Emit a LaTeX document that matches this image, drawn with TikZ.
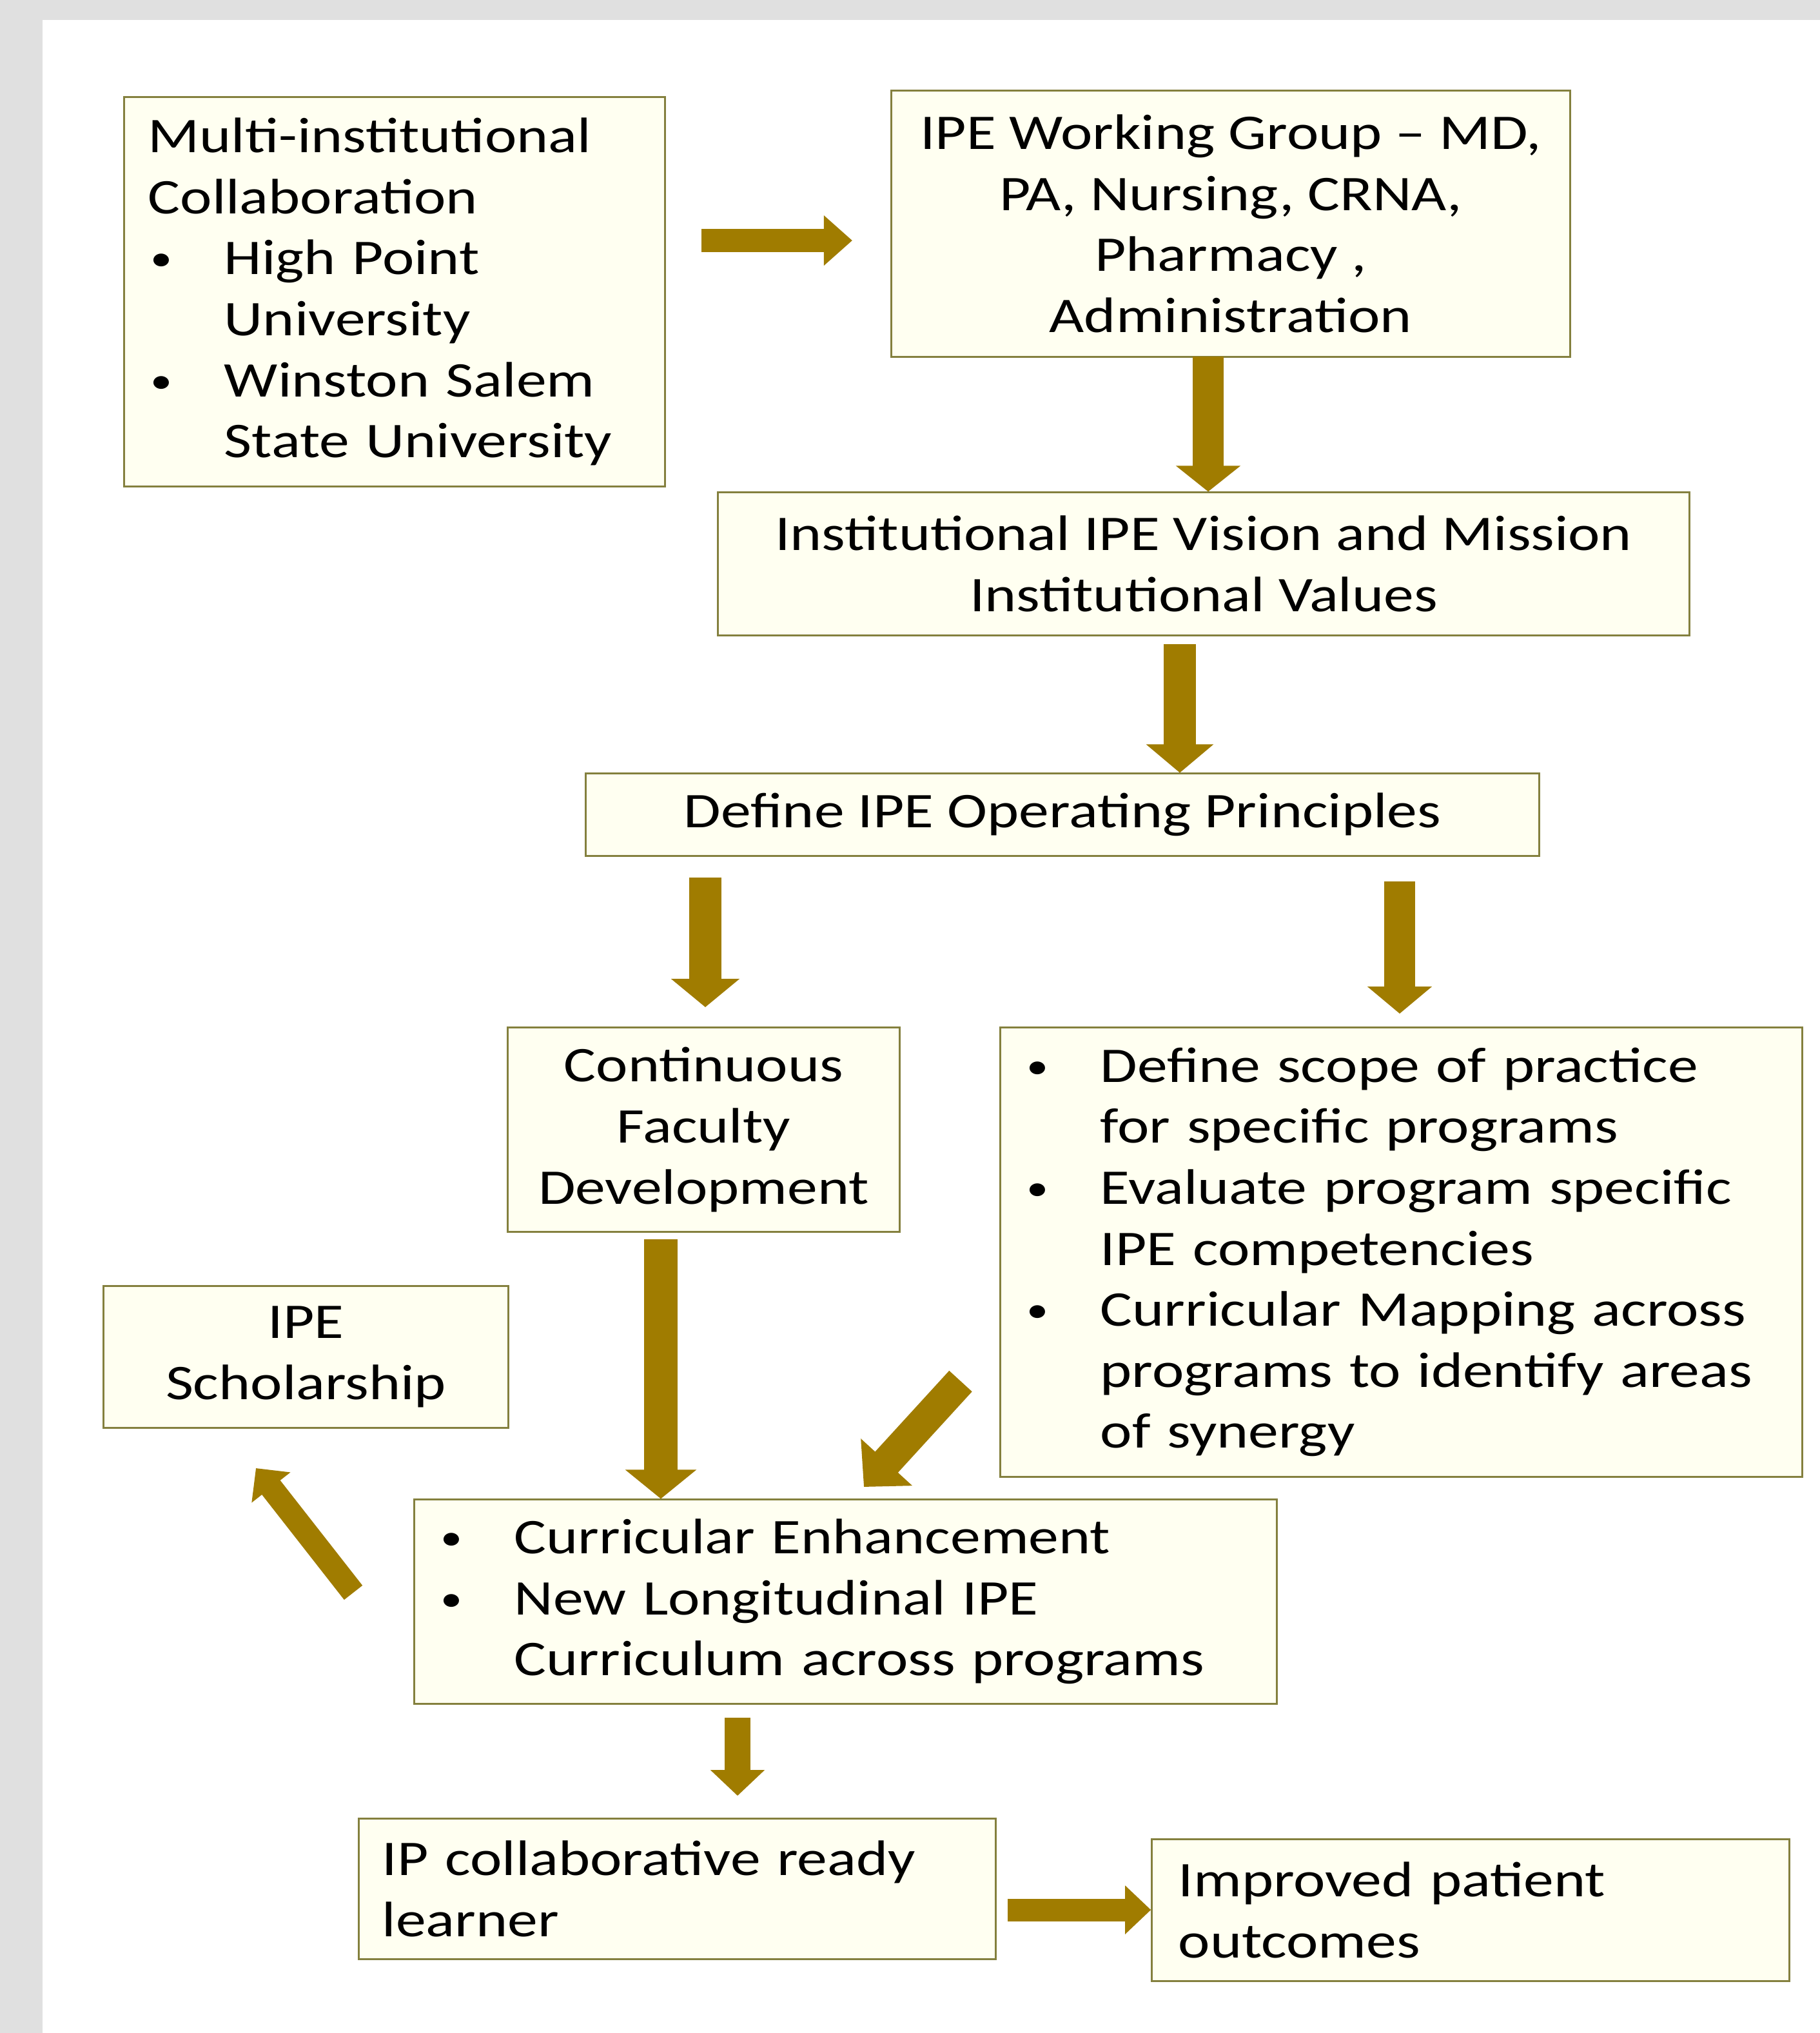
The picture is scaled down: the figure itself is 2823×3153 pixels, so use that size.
\documentclass[tikz,border=0pt]{standalone}
\usepackage{fontspec}
\setmainfont{Carlito}[FakeStretch=1.21]
\usepackage{tikz}
\usetikzlibrary{positioning}
\usetikzlibrary{arrows.meta}

\definecolor{framegray}{RGB}{224,224,224}
\definecolor{boxfill}{RGB}{255,255,241}
\definecolor{boxline}{RGB}{132,128,62}
\definecolor{arrowgold}{RGB}{160,124,0}

\newcommand{\bitem}{\makebox[1.18cm][l]{\hspace*{0.04cm}\raisebox{0.06cm}{\fontsize{16pt}{16pt}\selectfont\textbullet}}}
\newcommand{\bcont}{\hspace*{1.18cm}}

\begin{document}
\begin{tikzpicture}[x=0.01cm,y=-0.01cm,
						flowbox/.style={draw=boxline, fill=boxfill, line width=0.85pt, inner sep=0pt,
							font=\fontsize{22pt}{26.9pt}\selectfont},
						blockarrow/.style n args={3}{draw=arrowgold, line width=#1,
							-{Triangle[width=#2, length=#3, fill=arrowgold]}},
						]
						%Frame
						\useasboundingbox (0,0) rectangle (2823,3153);
						\fill[framegray] (0,0) rectangle (2823,3153);
						\fill[white] (66,31) rectangle (2823,3153);

						%Nodes
						\node[flowbox, minimum width=8.38cm, minimum height=6.03cm, text width=7.64cm, align=left]
							(multi) 	at 	(612,452.5) 	{Multi-institutional\\ Collaboration\\ \bitem High Point\\ \bcont University\\ \bitem Winston Salem\\ \bcont State University};
						\node[flowbox, minimum width=10.52cm, minimum height=4.12cm, align=center]
							(group) 	at 	(1909,347) 	{IPE Working Group -- MD,\\ PA, Nursing, CRNA,\\ Pharmacy ,\\ Administration};
						\node[flowbox, minimum width=15.06cm, minimum height=2.21cm, align=center]
							(vision) 	at 	(1867,874.5) 	{Institutional IPE Vision and Mission\\ Institutional Values};
						\node[flowbox, minimum width=14.78cm, minimum height=1.27cm, align=center]
							(principles) 	at 	(1648,1263.5) 	{Define IPE Operating Principles};
						\node[flowbox, minimum width=6.07cm, minimum height=3.16cm, align=center]
							(faculty) 	at 	(1091.5,1752) 	{Continuous\\ Faculty\\ Development};
						\node[flowbox, minimum width=12.43cm, minimum height=6.96cm, text width=11.69cm, align=left]
							(scope) 	at 	(2173.5,1942) 	{\bitem Define scope of practice\\ \bcont for specific programs\\ \bitem Evaluate program specific\\ \bcont IPE competencies\\ \bitem Curricular Mapping across\\ \bcont programs to identify areas\\ \bcont of synergy};
						\node[flowbox, minimum width=6.27cm, minimum height=2.19cm, align=center]
							(scholar) 	at 	(474.5,2104.5) 	{IPE\\ Scholarship};
						\node[flowbox, minimum width=13.37cm, minimum height=3.16cm, text width=12.63cm, align=left]
							(curric) 	at 	(1311.5,2484) 	{\bitem Curricular Enhancement\\ \bitem New Longitudinal IPE\\ \bcont Curriculum across programs};
						\node[flowbox, minimum width=9.87cm, minimum height=2.17cm, text width=9.15cm, align=left]
							(learner) 	at 	(1050.5,2929.5) 	{IP collaborative ready\\ learner};
						\node[flowbox, minimum width=9.88cm, minimum height=2.19cm, text width=9.06cm, align=left]
							(outcome) 	at 	(2281,2962.5) 	{Improved patient\\ outcomes};

						%Arrow ends
						\coordinate (a1s) at (1088,373);
						\coordinate (a1e) at (1322,373);
						\coordinate (a2s) at (1874,553);
						\coordinate (a3s) at (1830,999);
						\coordinate (a4s) at (1094,1361);
						\coordinate (a4e) at (1094,1562);
						\coordinate (a5s) at (2171,1367);
						\coordinate (a5e) at (2171,1572);
						\coordinate (a6s) at (1025,1922);
						\coordinate (a7s) at (1490,2142);
						\coordinate (a7e) at (1340,2306);
						\coordinate (a8s) at (548,2470);
						\coordinate (a8e) at (397,2277);
						\coordinate (a9s) at (1144,2664);
						\coordinate (a9e) at (1144,2785);
						\coordinate (a10s) at (1563,2962);

						%Lines
						\draw[blockarrow={0.36cm}{0.75cm}{0.44cm}] (a1s) -- (a1e);
						\draw[blockarrow={0.48cm}{0.98cm}{0.40cm}] (a2s) -- (a2s |- vision.north);
						\draw[blockarrow={0.50cm}{1.02cm}{0.44cm}] (a3s) -- (a3s |- principles.north);
						\draw[blockarrow={0.50cm}{1.04cm}{0.44cm}] (a4s) -- (a4e);
						\draw[blockarrow={0.48cm}{0.98cm}{0.42cm}] (a5s) -- (a5e);
						\draw[blockarrow={0.52cm}{1.08cm}{0.45cm}] (a6s) -- (a6s |- curric.north);
						\draw[blockarrow={0.48cm}{1.05cm}{0.52cm}] (a7s) -- (a7e);
						\draw[blockarrow={0.36cm}{0.74cm}{0.38cm}] (a8s) -- (a8e);
						\draw[blockarrow={0.40cm}{0.82cm}{0.40cm}] (a9s) -- (a9e);
						\draw[blockarrow={0.35cm}{0.73cm}{0.40cm}] (a10s) -- (a10s -| outcome.west);
					\end{tikzpicture}
\end{document}
